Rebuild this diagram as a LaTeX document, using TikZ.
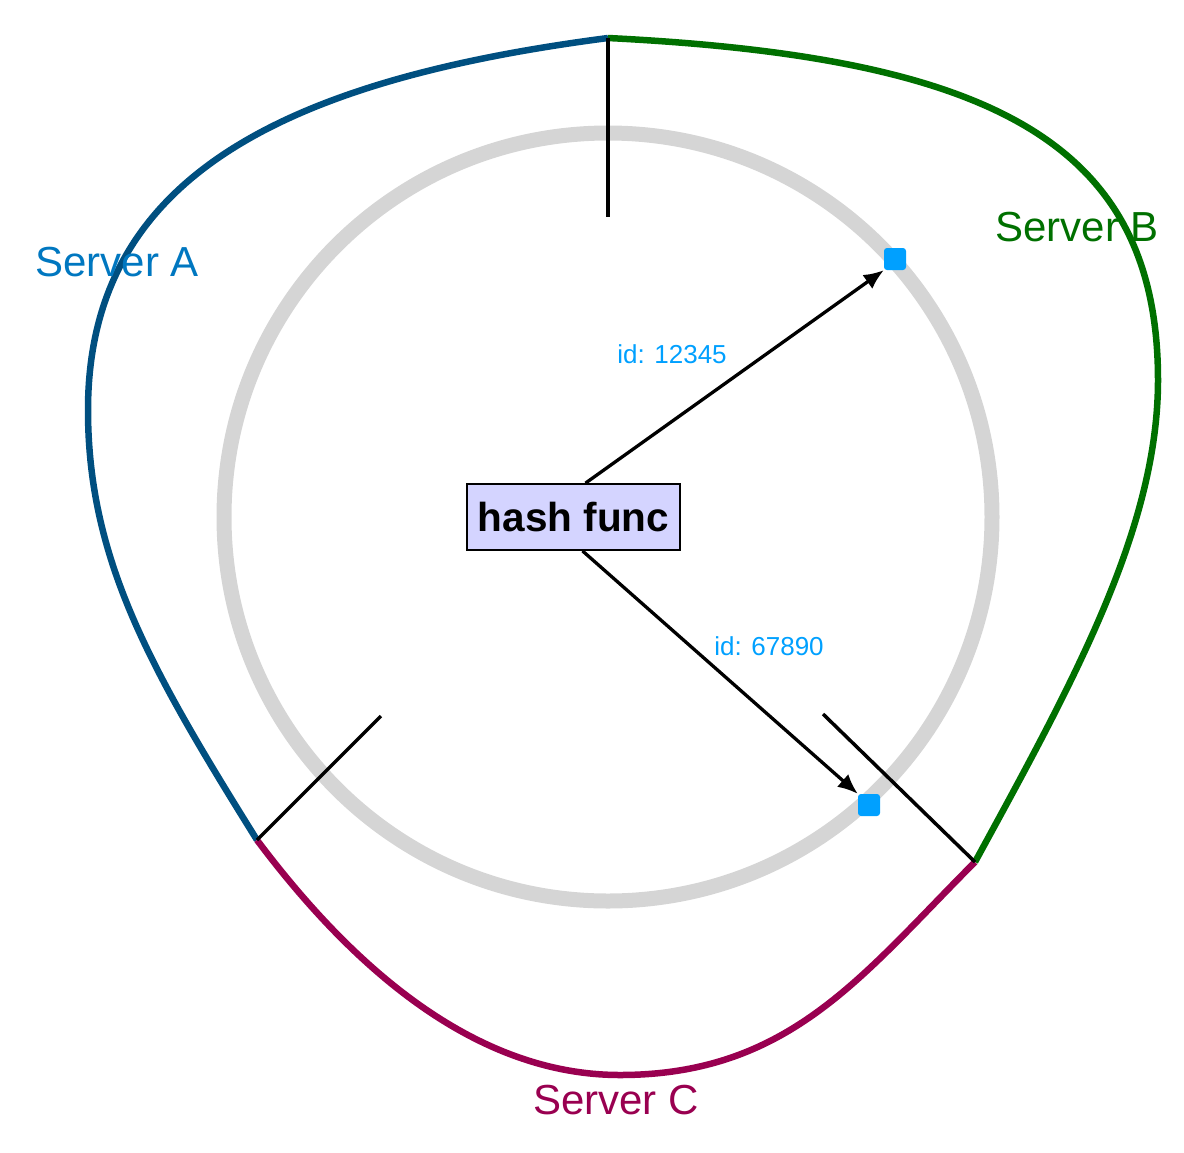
\documentclass[tikz,border=0pt]{standalone}
\usepackage{fontspec}
\setmainfont{Liberation Sans}
\usepackage{tikz}
\usetikzlibrary{positioning, arrows.meta}
\definecolor{ringgray}{RGB}{213,213,213}
\definecolor{lineA}{RGB}{0,79,128}
\definecolor{textA}{RGB}{0,119,192}
\definecolor{lineB}{RGB}{0,112,0}
\definecolor{lineC}{RGB}{153,0,80}
\definecolor{keyblue}{RGB}{0,160,255}
\definecolor{hashfill}{RGB}{212,212,255}
\tikzset{Ring/.style={draw=ringgray, line width=15pt}}
\tikzset{Server Line/.style={line width=6.5pt}}
\tikzset{Split/.style={draw, black, line width=3.5pt}}
\tikzset{Key/.style={fill=keyblue, rounded corners=3pt, minimum size=22pt, inner sep=0pt}}
\tikzset{Key Edge/.style={draw, line width=3.3pt, -{Latex[length=20pt, width=17pt]}}}
\tikzset{Id/.style={text=keyblue, font=\fontsize{26}{30}\selectfont}}
\tikzset{Server/.style={font=\fontsize{42}{50}\selectfont}}
\tikzset{Block/.style={draw, line width=1.8pt, fill=hashfill, minimum width=213pt, minimum height=66pt, inner sep=0pt, font=\fontsize{40.5}{48}\selectfont\bfseries}}

\begin{document}
\begin{tikzpicture}[x=1pt, y=-1pt]
\useasboundingbox (0,0) rectangle (1184,1152);

\coordinate (hub) at (608,517);
\coordinate (AB) at (608,38);
\coordinate (AC) at (257,840);
\coordinate (BC) at (975,862);
\coordinate (AB in) at (608,217);
\coordinate (AC in) at (381,716);
\coordinate (BC in) at (823,714);

\draw[Ring] (hub) circle (384pt);

% server arcs
\draw[Server Line, lineA] (AB) .. controls (278,81) and (88,180) .. (88,410)
  .. controls (88,560) and (151,670) .. (AC);
\draw[Server Line, lineB] (AB) .. controls (988,57) and (1158,140) .. (1158,380)
  .. controls (1158,530) and (1071,686) .. (BC);
\draw[Server Line, lineC] (AC) .. controls (347,960) and (470,1075) .. (620,1075)
  .. controls (790,1075) and (863,974) .. (BC);

\draw[Split] (AB) -- (AB in);
\draw[Split] (AC) -- (AC in);
\draw[Split] (BC) -- (BC in);

\node[Server, text=textA] (srvA) at (117,262) {Server A};
\node[Server, text=lineB] (srvB) at (1077,227) {Server B};
\node[Server, text=lineC] (srvC) at (616,1100) {Server C};

\node[Key] (key1) at (895,259) {};
\node[Key] (key2) at (869,805) {};

\node[Block] (hash) at (573.5,517) {hash func};

\draw[Key Edge] ([xshift=12pt]hash.north) -- (key1.south west);
\draw[Key Edge] ([xshift=9pt]hash.south) -- (key2.north west);

\node[Id] (id1) at (672,354) {id: 12345};
\node[Id] (id2) at (769,646) {id: 67890};
\end{tikzpicture}
\end{document}
